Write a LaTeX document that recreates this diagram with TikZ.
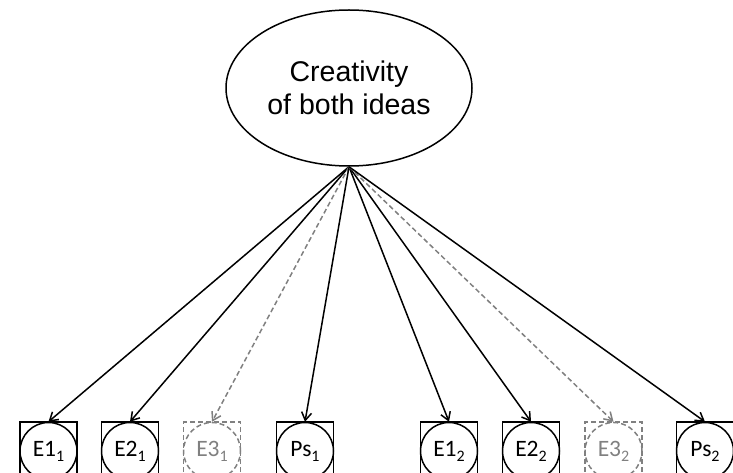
\documentclass[tikz,border=0pt]{standalone}
\usepackage{fontspec}
\setmainfont{Liberation Sans}
\newfontfamily\calib{Carlito}
\usetikzlibrary{arrows.meta,shapes.geometric}
\newcommand\mysub[1]{\raisebox{-5pt}{\fontsize{16}{16}\selectfont #1}}
\begin{document}
\begin{tikzpicture}[x=1pt,y=-1pt,
 latent/.style={ellipse,draw,line width=1.5pt,minimum width=246pt,minimum height=156pt,inner sep=0pt,align=center,font=\fontsize{28.5}{33}\selectfont},
 indbox/.style={draw,line width=1.5pt,minimum width=57pt,minimum height=57pt,inner sep=0pt},
 indcirc/.style={ellipse,draw,line width=1.5pt,minimum width=57pt,minimum height=57pt,inner sep=0pt,font=\calib\fontsize{23.5}{23.5}\selectfont},
 ghost/.style={draw=gray,text=gray,dash pattern=on 5pt off 3pt},
 load/.style={line width=1.5pt,-{Straight Barb[length=8pt,width=10pt]}},
 gload/.style={load,draw=gray,dash pattern=on 5pt off 3pt}]
\useasboundingbox (0,0) rectangle (733,473);
\node[latent] (top) at (349,88) {Creativity\\of both ideas};
% indicators
\node[indbox] (b1) at (48.5,450.5) {};
\node[indcirc] (c1) at (48.5,451) {E1\mysub{1}};
\node[indbox] (b2) at (130,450.5) {};
\node[indcirc] (c2) at (130,451) {E2\mysub{1}};
\node[indbox,ghost] (b3) at (212,450.5) {};
\node[indcirc,ghost] (c3) at (212,451) {E3\mysub{1}};
\node[indbox] (b4) at (305,450.5) {};
\node[indcirc] (c4) at (305,451) {Ps\mysub{1}};
\node[indbox] (b5) at (449,450.5) {};
\node[indcirc] (c5) at (449,451) {E1\mysub{2}};
\node[indbox] (b6) at (531,450.5) {};
\node[indcirc] (c6) at (531,451) {E2\mysub{2}};
\node[indbox,ghost] (b7) at (613.5,450.5) {};
\node[indcirc,ghost] (c7) at (613.5,451) {E3\mysub{2}};
\node[indbox] (b8) at (705,450.5) {};
\node[indcirc] (c8) at (705,451) {Ps\mysub{2}};
% loadings
\draw[load] (top.south) -- (c1.north);
\draw[load] (top.south) -- (c2.north);
\draw[gload] (top.south) -- (c3.north);
\draw[load] (top.south) -- (c4.north);
\draw[load] (top.south) -- (c5.north);
\draw[load] (top.south) -- (c6.north);
\draw[gload] (top.south) -- (c7.north);
\draw[load] (top.south) -- (c8.north);
\end{tikzpicture}
\end{document}
